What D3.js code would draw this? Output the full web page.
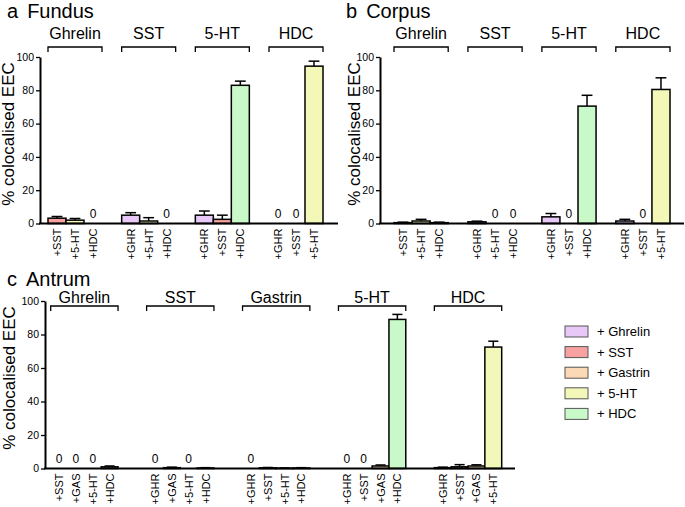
<!DOCTYPE html>
<html><head><meta charset="utf-8">
<script src="https://cdn.jsdelivr.net/npm/d3@7"></script>
<style>body{margin:0;background:#fff}svg{font-family:"Liberation Sans",Arial,sans-serif}</style>
</head><body><svg id="c" width="685" height="507"></svg>
<script>
// ---- data ----
const fundusGroups = ["Ghrelin", "SST", "5-HT", "HDC"];
const fundusLabels = [["+SST","+5-HT","+HDC"],["+GHR","+5-HT","+HDC"],["+GHR","+SST","+HDC"],["+GHR","+SST","+5-HT"]];
const fundusValues = [[3.2,2,0],[5,1.5,0],[5,2.5,83],[0,0,94.5]];
const fundusErrors = [[1,1,0],[1.5,2,0],[2.5,2.5,2.5],[0,0,3]];

const corpusGroups = ["Ghrelin", "SST", "5-HT", "HDC"];
const corpusLabels = [["+SST","+5-HT","+HDC"],["+GHR","+5-HT","+HDC"],["+GHR","+SST","+HDC"],["+GHR","+SST","+5-HT"]];
const corpusValues = [[0.5,1.5,0.5],[1,0,0],[4,0,70.5],[1.5,0,80.5]];
const corpusErrors = [[0.3,1,0.3],[0.4,0,0],[2,0,6.5],[1,0,7]];

const antrumGroups = ["Ghrelin", "SST", "Gastrin", "5-HT", "HDC"];
const antrumLabels = [["+SST","+GAS","+5-HT","+HDC"],["+GHR","+GAS","+5-HT","+HDC"],["+GHR","+SST","+5-HT","+HDC"],["+GHR","+SST","+GAS","+HDC"],["+GHR","+SST","+GAS","+5-HT"]];
const antrumValues = [[0,0,0,1],[0,0.5,0,0.3],[0,0.4,0.2,0.3],[0,0,1.5,89],[0.5,1,1.5,72.5]];
const antrumErrors = [[0,0,0,0.5],[0,0.3,0,0.2],[0,0.2,0.1,0.2],[0,0,0.6,3],[0.3,1.3,0.7,3.5]];

const yTicks = [0, 20, 40, 60, 80, 100];
const legendLabels = ["+ Ghrelin", "+ SST", "+ Gastrin", "+ 5-HT", "+ HDC"];
const legendKeys = ["+GHR", "+SST", "+GAS", "+5-HT", "+HDC"];
const colorKeys = ["+GHR", "+SST", "+GAS", "+5-HT", "+HDC"];
const colorVals = ["#e8c8f7", "#f7a1a1", "#fcd9b6", "#f3f8b9", "#c9f8c9"];

const color = d3.scaleOrdinal(colorKeys, colorVals);
const svg = d3.select("#c");

function panel(cfg) {
  const g = svg.append("g");
  const y = d3.scaleLinear().domain([0, 100]).range([cfg.y0, cfg.y100]);
  const xg = d3.scaleBand().domain(cfg.groups.map((d, i) => i)).range(cfg.groupRange)
    .paddingInner(cfg.pad).paddingOuter(0);

  // title
  const t = g.append("text").attr("x", cfg.titleX).attr("y", cfg.titleY).attr("font-size", 20);
  t.append("tspan").text(cfg.letter);
  t.append("tspan").attr("dx", 9).text(cfg.name);

  // y label
  g.append("text").attr("transform", `translate(${cfg.ylabX},${cfg.ylabY}) rotate(-90)`)
    .attr("text-anchor", "middle").attr("font-size", 17).text("% colocalised EEC");

  cfg.groups.forEach((gn, gi) => {
    const x0 = xg(gi), bw0 = xg.bandwidth();
    const xi = d3.scaleBand().domain(cfg.labels[gi].map((d, i) => i)).range([x0, x0 + bw0]).padding(0);
    const bw = xi.bandwidth();
    // bracket
    g.append("path").attr("d", `M${x0},${cfg.brY + 5}V${cfg.brY}H${x0 + bw0}V${cfg.brY + 5}`)
      .attr("fill", "none").attr("stroke", "#000").attr("stroke-width", 1.3);
    g.append("text").attr("x", x0 + bw0 / 2).attr("y", cfg.brLabY).attr("text-anchor", "middle")
      .attr("font-size", 16).text(gn);
    cfg.labels[gi].forEach((lab, i) => {
      const v = cfg.values[gi][i], e = cfg.errors[gi][i];
      const cx = xi(i) + bw / 2;
      if (v > 0) {
        if (e > 0) {
          g.append("line").attr("x1", cx).attr("x2", cx).attr("y1", y(v)).attr("y2", y(v + e))
            .attr("stroke", "#000").attr("stroke-width", 1.5);
          g.append("line").attr("x1", cx - bw * 0.3).attr("x2", cx + bw * 0.3).attr("y1", y(v + e)).attr("y2", y(v + e))
            .attr("stroke", "#000").attr("stroke-width", 1.5);
        }
        g.append("rect").attr("x", xi(i)).attr("width", bw).attr("y", y(v)).attr("height", y(0) - y(v))
          .attr("fill", color(lab)).attr("stroke", "#000").attr("stroke-width", 1.5);
      } else {
        g.append("text").attr("x", cx).attr("y", y(0) - 6).attr("text-anchor", "middle")
          .attr("font-size", 12).text("0");
      }
      g.append("text").attr("transform", `translate(${cx + 4},${y(0) + 5}) rotate(-90)`)
        .attr("text-anchor", "end").attr("font-size", 11).text(lab);
    });
  });

  // axes
  const ax = g.append("g").attr("transform", `translate(${cfg.axisX},0)`)
    .call(d3.axisLeft(y).tickValues(yTicks).tickSize(4).tickSizeOuter(0).tickPadding(2));
  ax.select(".domain").attr("stroke-width", 2);
  ax.selectAll(".tick line").attr("stroke-width", 1.3);
  ax.selectAll(".tick text").attr("font-size", 10.5).attr("font-family", "Liberation Sans, Arial, sans-serif").attr("fill", "#000");
  g.append("line").attr("x1", cfg.axisX - 1).attr("x2", cfg.axisEnd).attr("y1", y(0)).attr("y2", y(0))
    .attr("stroke", "#000").attr("stroke-width", 2);
}

panel({letter: "a", name: "Fundus", titleX: 7, titleY: 18, groups: fundusGroups, labels: fundusLabels,
  values: fundusValues, errors: fundusErrors, y0: 223.5, y100: 57, axisX: 40, axisEnd: 338,
  groupRange: [48, 323], pad: 0.267, brY: 47, brLabY: 39, ylabX: 14, ylabY: 134});
panel({letter: "b", name: "Corpus", titleX: 346, titleY: 18, groups: corpusGroups, labels: corpusLabels,
  values: corpusValues, errors: corpusErrors, y0: 223.5, y100: 57, axisX: 380, axisEnd: 684,
  groupRange: [394, 670], pad: 0.267, brY: 47, brLabY: 39, ylabX: 360, ylabY: 134});
panel({letter: "c", name: "Antrum", titleX: 7, titleY: 286, groups: antrumGroups, labels: antrumLabels,
  values: antrumValues, errors: antrumErrors, y0: 468.5, y100: 301, axisX: 45, axisEnd: 515,
  groupRange: [50.7, 501.7], pad: 0.298, brY: 306, brLabY: 303, ylabX: 15, ylabY: 378});

// legend
const lg = svg.append("g");
legendKeys.forEach((k, i) => {
  const yy = 326 + i * 20.6;
  lg.append("rect").attr("x", 565).attr("y", yy).attr("width", 23).attr("height", 11)
    .attr("fill", color(k)).attr("stroke", "#555").attr("stroke-width", 1);
  lg.append("text").attr("x", 597).attr("y", yy + 10).attr("font-size", 13).text(legendLabels[i]);
});
</script></body></html>
